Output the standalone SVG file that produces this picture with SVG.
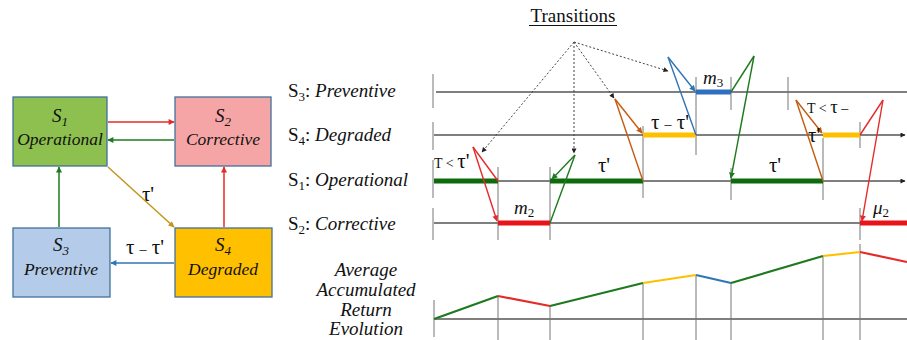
<svg xmlns="http://www.w3.org/2000/svg" width="907" height="340" viewBox="0 0 907 340">
<style>
.box{stroke:#41719c;stroke-width:1.3}
.bt{font-family:"Liberation Serif",serif;font-style:italic;font-size:19px;fill:#111;text-anchor:middle}
.bi{font-family:"Liberation Serif",serif;font-style:italic;font-size:17.5px;fill:#111;text-anchor:middle}
.lbl{font-family:"Liberation Serif",serif;font-size:19px;fill:#111}
.ax{stroke:#555;stroke-width:1.3;fill:none}
.tk{stroke:#777;stroke-width:1;fill:none}
.g{stroke:#1e7a1e}
.r{stroke:#e52a2a}
.b{stroke:#2e75b6}
.br{stroke:#c55a11}
.tr{stroke-width:1.4;fill:none}
.dot{stroke:#444;stroke-width:1;stroke-dasharray:2,2;fill:none}
.math{font-family:"Liberation Serif",serif;fill:#111}
</style>
<defs>
<marker id="aR" viewBox="0 0 10 10" refX="9" refY="5" markerWidth="7" markerHeight="6" markerUnits="userSpaceOnUse" orient="auto"><path d="M0,0 L10,5 L0,10 z" fill="#e52a2a"/></marker>
<marker id="aG" viewBox="0 0 10 10" refX="9" refY="5" markerWidth="7" markerHeight="6" markerUnits="userSpaceOnUse" orient="auto"><path d="M0,0 L10,5 L0,10 z" fill="#1e7a1e"/></marker>
<marker id="aB" viewBox="0 0 10 10" refX="9" refY="5" markerWidth="7" markerHeight="6" markerUnits="userSpaceOnUse" orient="auto"><path d="M0,0 L10,5 L0,10 z" fill="#2e75b6"/></marker>
<marker id="aY" viewBox="0 0 10 10" refX="9" refY="5" markerWidth="7" markerHeight="6" markerUnits="userSpaceOnUse" orient="auto"><path d="M0,0 L10,5 L0,10 z" fill="#c4941c"/></marker>
<marker id="aO" viewBox="0 0 10 10" refX="9" refY="5" markerWidth="7" markerHeight="6" markerUnits="userSpaceOnUse" orient="auto"><path d="M0,0 L10,5 L0,10 z" fill="#c55a11"/></marker>
<marker id="aK" viewBox="0 0 10 10" refX="9" refY="5" markerWidth="6" markerHeight="5" markerUnits="userSpaceOnUse" orient="auto"><path d="M0,0 L10,5 L0,10 z" fill="#222"/></marker>
</defs>
<rect width="907" height="340" fill="#fff"/>

<!-- Left state diagram -->
<g id="s1">
<rect class="box" x="13" y="97" width="94" height="69" fill="#8dc04e"/>
<text class="bt" x="60" y="122">S<tspan font-size="13" dy="4">1</tspan></text>
<text class="bi" x="60" y="145">Operational</text>
</g>
<g id="s2">
<rect class="box" x="175" y="97" width="96" height="69" fill="#f5a5a5"/>
<text class="bt" x="223" y="122">S<tspan font-size="13" dy="4">2</tspan></text>
<text class="bi" x="223" y="145">Corrective</text>
</g>
<g id="s3">
<rect class="box" x="13" y="228" width="97" height="69" fill="#b4cce9"/>
<text class="bt" x="61" y="251">S<tspan font-size="13" dy="4">3</tspan></text>
<text class="bi" x="61" y="275">Preventive</text>
</g>
<g id="s4">
<rect class="box" x="175" y="228" width="97" height="69" fill="#ffc000"/>
<text class="bt" x="223" y="251">S<tspan font-size="13" dy="4">4</tspan></text>
<text class="bi" x="223" y="275">Degraded</text>
</g>
<g id="connectors" stroke-width="1.5" fill="none">
<line x1="108" y1="122" x2="174" y2="122" class="r" marker-end="url(#aR)"/>
<line x1="174" y1="140" x2="108" y2="140" class="g" marker-end="url(#aG)"/>
<line x1="108" y1="167" x2="174" y2="227" stroke="#c4941c" marker-end="url(#aY)"/>
<line x1="59" y1="227" x2="59" y2="167" class="g" marker-end="url(#aG)"/>
<line x1="224" y1="227" x2="224" y2="167" class="r" marker-end="url(#aR)"/>
<line x1="174" y1="263" x2="111" y2="263" class="b" marker-end="url(#aB)"/>
<text class="math" x="148" y="201" font-size="21" text-anchor="middle">τ'</text>
<text class="math" x="145" y="254" font-size="21" text-anchor="middle">τ <tspan font-size="14">–</tspan> τ'</text>
</g>

<!-- Timeline -->
<g id="title">
<text class="lbl" x="573" y="22" font-size="19.5" text-anchor="middle">Transitions</text>
<line x1="529" y1="25.5" x2="617" y2="25.5" stroke="#111" stroke-width="1"/>
</g>
<g id="row-labels" class="lbl">
<text x="288" y="97">S<tspan font-size="13" dy="4">3</tspan><tspan dy="-4">: </tspan><tspan font-style="italic">Preventive</tspan></text>
<text x="288" y="141">S<tspan font-size="13" dy="4">4</tspan><tspan dy="-4">: </tspan><tspan font-style="italic">Degraded</tspan></text>
<text x="288" y="186">S<tspan font-size="13" dy="4">1</tspan><tspan dy="-4">: </tspan><tspan font-style="italic">Operational</tspan></text>
<text x="288" y="230">S<tspan font-size="13" dy="4">2</tspan><tspan dy="-4">: </tspan><tspan font-style="italic">Corrective</tspan></text>
</g>
<g id="axes">
<line class="ax" x1="436" y1="92" x2="907" y2="92"/>
<line class="ax" x1="434" y1="135" x2="905" y2="135" marker-end="url(#aK)"/>
<line class="ax" x1="434" y1="181" x2="905" y2="181" marker-end="url(#aK)"/>
<line class="ax" x1="434" y1="223" x2="907" y2="223"/>
<line class="ax" x1="434" y1="319" x2="907" y2="319"/>
</g>
<g id="ticks" class="tk">
<line x1="433" y1="74" x2="433" y2="108"/>
<line x1="433" y1="122" x2="433" y2="150"/>
<line x1="433" y1="160" x2="433" y2="198"/>
<line x1="433" y1="208" x2="433" y2="240"/>
<line x1="434" y1="300" x2="434" y2="337"/>
<line x1="498" y1="167" x2="498" y2="240"/>
<line x1="550" y1="167" x2="550" y2="240"/>
<line x1="643" y1="126" x2="643" y2="198"/>
<line x1="696" y1="77" x2="696" y2="155"/>
<line x1="731" y1="77" x2="731" y2="110"/>
<line x1="731" y1="168" x2="731" y2="200"/>
<line x1="788" y1="77" x2="788" y2="110"/>
<line x1="823" y1="138" x2="823" y2="200"/>
<line x1="860" y1="122" x2="860" y2="148"/>
<line x1="860" y1="208" x2="860" y2="240"/>
<line x1="498" y1="296" x2="498" y2="340"/>
<line x1="550" y1="306" x2="550" y2="340"/>
<line x1="643" y1="283" x2="643" y2="340"/>
<line x1="696" y1="275" x2="696" y2="340"/>
<line x1="731" y1="283" x2="731" y2="340"/>
<line x1="823" y1="256" x2="823" y2="340"/>
<line x1="860" y1="244" x2="860" y2="340"/>
</g>
<g id="bars" stroke-width="5" fill="none">
<line x1="434" y1="181" x2="498" y2="181" stroke="#0d6b0d"/>
<line x1="550" y1="181" x2="643" y2="181" stroke="#0d6b0d"/>
<line x1="731" y1="181" x2="823" y2="181" stroke="#0d6b0d"/>
<line x1="498" y1="223" x2="550" y2="223" stroke="#e8141a"/>
<line x1="860" y1="223" x2="907" y2="223" stroke="#e8141a"/>
<line x1="643" y1="135" x2="696" y2="135" stroke="#ffc000"/>
<line x1="823" y1="135" x2="860" y2="135" stroke="#ffc000"/>
<line x1="696" y1="92" x2="731" y2="92" stroke="#2e6fc0"/>
</g>
<g id="transitions" class="tr">
<polyline class="r" points="498,181 473,147"/>
<line class="r" x1="473" y1="147" x2="497" y2="221" marker-end="url(#aR)"/>
<polyline class="g" points="550,223 575,155"/>
<line class="g" x1="575" y1="155" x2="552" y2="179" marker-end="url(#aG)"/>
<polyline class="br" points="643,181 615,99"/>
<line class="br" x1="615" y1="99" x2="642" y2="133" marker-end="url(#aO)"/>
<polyline class="b" points="696,135 668,57"/>
<line class="b" x1="668" y1="57" x2="695" y2="91" marker-end="url(#aB)"/>
<polyline class="g" points="731,92 754,56"/>
<line class="g" x1="754" y1="56" x2="731" y2="178" marker-end="url(#aG)"/>
<polyline class="br" points="823,181 796,100"/>
<line class="br" x1="796" y1="100" x2="822" y2="133" marker-end="url(#aO)"/>
<polyline class="r" points="860,135 883,100"/>
<line class="r" x1="883" y1="100" x2="862" y2="221" marker-end="url(#aR)"/>
</g>
<g id="dotted">
<line class="dot" x1="574" y1="42" x2="482" y2="152" marker-end="url(#aK)"/>
<line class="dot" x1="574" y1="42" x2="574" y2="153" marker-end="url(#aK)"/>
<line class="dot" x1="574" y1="42" x2="614" y2="98" marker-end="url(#aK)"/>
<line class="dot" x1="574" y1="42" x2="668" y2="71" marker-end="url(#aK)"/>
</g>
<g id="timeline-labels" class="math">
<text x="434" y="168" font-size="14">T &lt; <tspan font-size="21">τ'</tspan></text>
<text x="514" y="214" font-size="19" font-style="italic">m<tspan font-size="13" font-style="normal" dy="3">2</tspan></text>
<text x="604" y="172" font-size="21" text-anchor="middle">τ'</text>
<text x="670" y="129" font-size="21" text-anchor="middle">τ <tspan font-size="14">–</tspan> τ'</text>
<text x="703" y="84" font-size="19" font-style="italic">m<tspan font-size="13" font-style="normal" dy="3">3</tspan></text>
<text x="775" y="172" font-size="21" text-anchor="middle">τ'</text>
<text x="807" y="113" font-size="14">T &lt; <tspan font-size="19">τ</tspan> –</text>
<text x="808" y="142" font-size="21">τ'</text>
<text x="873" y="214" font-size="19" font-style="italic">μ<tspan font-size="13" font-style="normal" dy="3">2</tspan></text>
</g>
<g id="return-label" class="lbl" font-style="italic" font-size="17" text-anchor="middle">
<text x="366" y="276">Average</text>
<text x="366" y="296">Accumulated</text>
<text x="366" y="316">Return</text>
<text x="366" y="335">Evolution</text>
</g>
<g id="return-curve" stroke-width="2.2" fill="none">
<polyline points="434,319 498,296" stroke="#1e7a1e"/>
<polyline points="498,296 550,306" stroke="#e52a2a"/>
<polyline points="550,306 643,283" stroke="#1e7a1e"/>
<polyline points="643,283 696,275" stroke="#ffc000"/>
<polyline points="696,275 731,283" stroke="#2e75b6"/>
<polyline points="731,283 823,256" stroke="#1e7a1e"/>
<polyline points="823,256 860,252" stroke="#ffc000"/>
<polyline points="860,252 907,262" stroke="#e52a2a"/>
</g>
</svg>
